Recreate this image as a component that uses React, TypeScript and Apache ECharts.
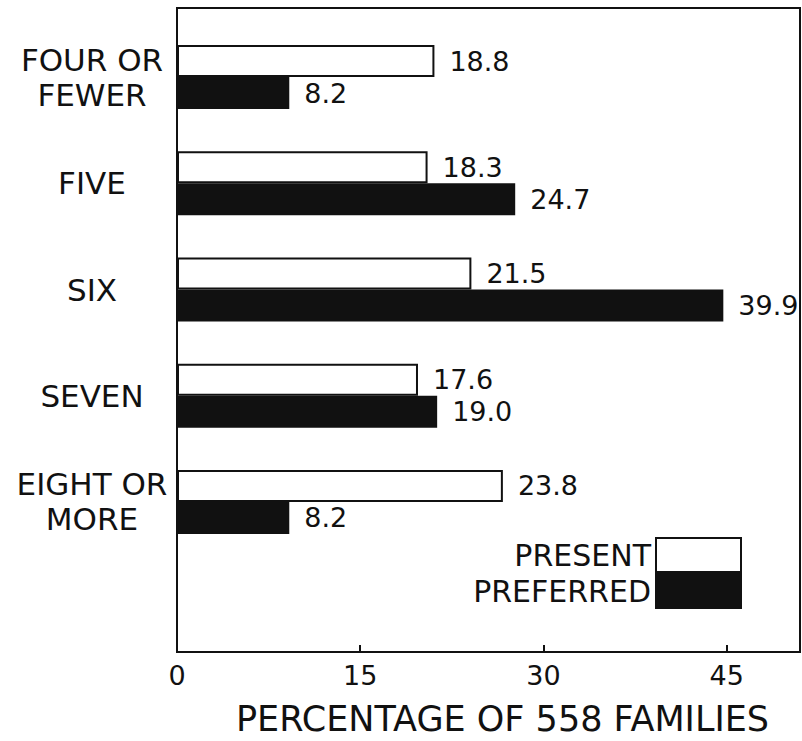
import React, { useEffect, useRef } from "react";
import * as echarts from "echarts";

const categories = ["FOUR OR\nFEWER", "FIVE", "SIX", "SEVEN", "EIGHT OR\nMORE"];
const seriesNames = ["PRESENT", "PREFERRED"];
const presentValues = [18.8, 18.3, 21.5, 17.6, 23.8];
const preferredValues = [8.2, 24.7, 39.9, 19.0, 8.2];
const tickValues = [0, 15, 30, 45];
const axisTitle = "PERCENTAGE OF 558 FAMILIES";

export default function App() {
  const ref = useRef<HTMLDivElement>(null);

  useEffect(() => {
    document.body.style.margin = "0";
    const chart = echarts.init(ref.current!, undefined, { renderer: "svg" });
    const font = "DejaVu Sans";
    const ink = "#111";
    const fmt = (p: any) => Number(p.value).toFixed(1);

    chart.setOption({
      animation: false,
      backgroundColor: "#fff",
      textStyle: { fontFamily: font, color: ink },
      grid: [
        {
          left: 177,
          right: 2,
          top: 8,
          bottom: 87,
          show: true,
          borderColor: ink,
          borderWidth: 2,
          backgroundColor: "transparent",
        },
        { left: 177, right: 2, top: 24, bottom: 186 },
      ],
      legend: {
        orient: "vertical",
        right: 60,
        top: 537,
        padding: 0,
        align: "right",
        itemWidth: 85,
        itemHeight: 34,
        itemGap: 0,
        selectedMode: false,
        textStyle: { fontSize: 30, lineHeight: 34, color: ink, fontFamily: font },
        data: [
          {
            name: seriesNames[0],
            icon: "rect",
            itemStyle: { color: "#fff", borderColor: ink, borderWidth: 2 },
          },
          {
            name: seriesNames[1],
            icon: "rect",
            itemStyle: { color: ink, borderColor: ink, borderWidth: 2 },
          },
        ],
      },
      xAxis: [
        {
          gridIndex: 0,
          type: "value",
          min: 0,
          max: 51,
          axisLine: { show: true, lineStyle: { color: ink, width: 2 } },
          axisTick: {
            show: true,
            inside: true,
            length: 7,
            customValues: tickValues,
            lineStyle: { color: ink, width: 2 },
          },
          axisLabel: {
            customValues: tickValues,
            fontSize: 27,
            color: ink,
            margin: 10,
            fontFamily: font,
          },
          splitLine: { show: false },
          name: axisTitle,
          nameLocation: "middle",
          nameGap: 49,
          nameTextStyle: {
            fontSize: 35,
            color: ink,
            fontFamily: font,
            padding: [0, 0, 0, 28],
          },
        },
        { gridIndex: 1, type: "value", min: 0, max: 45.5, show: false },
      ],
      yAxis: [
        { gridIndex: 0, type: "value", show: false },
        {
          gridIndex: 1,
          type: "category",
          data: categories,
          inverse: true,
          axisLine: { show: false },
          axisTick: { show: false },
          splitLine: { show: false },
          axisLabel: {
            fontSize: 31,
            lineHeight: 35,
            color: ink,
            align: "center",
            margin: 85,
            fontFamily: font,
          },
        },
      ],
      series: [
        {
          name: seriesNames[0],
          type: "bar",
          xAxisIndex: 1,
          yAxisIndex: 1,
          data: presentValues,
          barWidth: 32,
          barGap: "0%",
          itemStyle: { color: "#fff", borderColor: ink, borderWidth: 2 },
          label: {
            show: true,
            position: "right",
            distance: 15,
            fontSize: 27,
            color: ink,
            fontFamily: font,
            formatter: fmt,
          },
        },
        {
          name: seriesNames[1],
          type: "bar",
          xAxisIndex: 1,
          yAxisIndex: 1,
          data: preferredValues,
          barWidth: 32,
          barGap: "0%",
          itemStyle: { color: ink },
          label: {
            show: true,
            position: "right",
            distance: 15,
            fontSize: 27,
            color: ink,
            fontFamily: font,
            formatter: fmt,
          },
        },
      ],
    });

    return () => {
      chart.dispose();
    };
  }, []);

  return <div ref={ref} style={{ width: 802, height: 741 }} />;
}
